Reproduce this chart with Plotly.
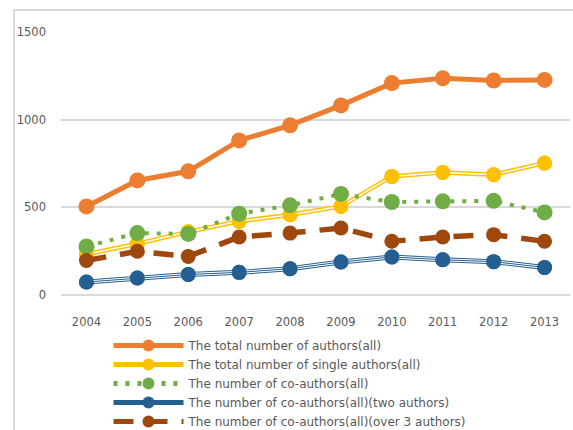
import plotly.graph_objects as go

years = ["2004", "2005", "2006", "2007", "2008", "2009", "2010", "2011", "2012", "2013"]
total_authors = [505, 653, 705, 881, 967, 1081, 1208, 1235, 1223, 1226]
single_authors = [232, 292, 360, 420, 458, 505, 676, 699, 686, 752]
co_authors = [277, 353, 348, 463, 511, 576, 530, 534, 537, 471]
co_two = [74, 97, 117, 129, 150, 188, 217, 201, 190, 157]
co_over3 = [197, 249, 220, 331, 353, 382, 306, 331, 344, 306]

names = [
    "The total number of authors(all)",
    "The total number of single authors(all)",
    "The number of co-authors(all)",
    "The number of co-authors(all)(two authors)",
    "The number of co-authors(all)(over 3 authors)",
]

ORANGE = "#ED7D31"
YELLOW = "#FFC000"
GREEN = "#70AD47"
BLUE = "#255E91"
BROWN = "#9E480E"
GRID = "#D9D9D9"
TEXT = "#595959"
FONT = "DejaVu Sans"

fig = go.Figure()

# orange
fig.add_trace(go.Scatter(x=years, y=total_authors, name=names[0], mode="lines+markers",
                         line=dict(color=ORANGE, width=5), marker=dict(color=ORANGE, size=16),
                         legendgroup="a"))
# yellow double line
fig.add_trace(go.Scatter(x=years, y=single_authors, name=names[1], mode="lines+markers",
                         line=dict(color=YELLOW, width=4.5), marker=dict(color=YELLOW, size=15),
                         legendgroup="b"))
fig.add_trace(go.Scatter(x=years, y=single_authors, mode="lines", showlegend=False,
                         line=dict(color="white", width=1.5), hoverinfo="skip", legendgroup="b"))
fig.add_trace(go.Scatter(x=years, y=single_authors, mode="markers", showlegend=False,
                         marker=dict(color=YELLOW, size=15), hoverinfo="skip", legendgroup="b"))
# green dotted
fig.add_trace(go.Scatter(x=years, y=co_authors, name=names[2], mode="lines+markers",
                         line=dict(color=GREEN, width=4, dash="4px,8px"),
                         marker=dict(color=GREEN, size=16), legendgroup="c"))
# blue triple line
fig.add_trace(go.Scatter(x=years, y=co_two, name=names[3], mode="lines+markers",
                         line=dict(color=BLUE, width=5), marker=dict(color=BLUE, size=15),
                         legendgroup="d"))
fig.add_trace(go.Scatter(x=years, y=co_two, mode="lines", showlegend=False,
                         line=dict(color="white", width=3), hoverinfo="skip", legendgroup="d"))
fig.add_trace(go.Scatter(x=years, y=co_two, mode="lines", showlegend=False,
                         line=dict(color=BLUE, width=1), hoverinfo="skip", legendgroup="d"))
fig.add_trace(go.Scatter(x=years, y=co_two, mode="markers", showlegend=False,
                         marker=dict(color=BLUE, size=15), hoverinfo="skip", legendgroup="d"))
# brown dashed
fig.add_trace(go.Scatter(x=years, y=co_over3, name=names[4], mode="lines+markers",
                         line=dict(color=BROWN, width=5.5, dash="20px,14px"),
                         marker=dict(color=BROWN, size=15), legendgroup="e"))

fig.update_layout(
    width=573, height=430,
    margin=dict(l=61, r=3, t=31, b=135, autoexpand=False),
    paper_bgcolor="white", plot_bgcolor="white",
    font=dict(family=FONT, color=TEXT, size=11.5),
    showlegend=True,
    legend=dict(x=(108.5 - 61) / 509, y=(295 - 331) / 264,
                xanchor="left", yanchor="top", itemsizing="constant",
                font=dict(family=FONT, size=12, color=TEXT), tracegroupgap=0,
                bgcolor="rgba(0,0,0,0)", itemwidth=70),
    xaxis=dict(type="category", range=[-0.5, 9.5], showgrid=False, showline=False,
               zeroline=False, automargin=False,
               ticks="", tickfont=dict(family=FONT, size=11.5, color=TEXT), ticklabelstandoff=18),
    yaxis=dict(range=[0, 1505], tickvals=[0, 500, 1000, 1500], showgrid=True, automargin=False,
               gridcolor=GRID, gridwidth=2, zeroline=True, zerolinecolor=GRID, zerolinewidth=2,
               showline=False, ticks="", tickfont=dict(family=FONT, size=11.5, color=TEXT),
               ticklabelstandoff=14),
    shapes=[dict(type="rect", xref="paper", yref="paper",
                 x0=(14 - 61) / 509, x1=(580 - 61) / 509,
                 y0=(295 - 440) / 264, y1=(295 - 10) / 264,
                 line=dict(color=GRID, width=2), fillcolor="rgba(0,0,0,0)", layer="below")],
)

fig.write_html("out.html", config={"displayModeBar": False},
               post_script="document.body.style.margin='0';")
